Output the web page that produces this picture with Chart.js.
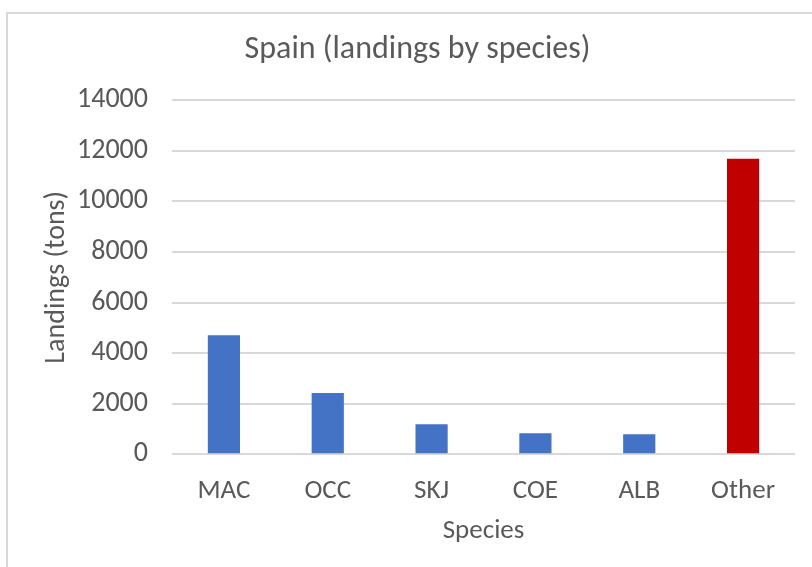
<!DOCTYPE html>
<html>
<head>
<meta charset="utf-8">
<script src="https://cdn.jsdelivr.net/npm/chart.js"></script>
<style>
  html, body { margin: 0; padding: 0; background: #fff; overflow: hidden; }
  #frame {
    position: absolute; left: 6px; top: 12px; width: 830px; height: 600px;
    border: 2px solid #d9d9d9; box-sizing: border-box;
  }
  #wrap { position: absolute; left: 0; top: 0; width: 812px; height: 567px; }
</style>
</head>
<body>
<div id="frame"></div>
<div id="wrap"><canvas id="landingsChart" width="812" height="567"></canvas></div>
<script>
// landings per species
const species = ['MAC', 'OCC', 'SKJ', 'COE', 'ALB', 'Other'];
const landings = [4710, 2420, 1185, 825, 785, 11690];
const barColors = ['#4472C4', '#4472C4', '#4472C4', '#4472C4', '#4472C4', '#C00000'];
const yTicks = [0, 2000, 4000, 6000, 8000, 10000, 12000, 14000];

const textGray = '#595959';
const fontName = 'Carlito, Lato, "Open Sans", sans-serif';

document.addEventListener('DOMContentLoaded', () => {
  const ctx = document.getElementById('landingsChart').getContext('2d');
  new Chart(ctx, {
    type: 'bar',
    data: {
      labels: species,
      datasets: [{
        data: landings,
        backgroundColor: barColors,
        borderWidth: 0,
        categoryPercentage: 1,
        barPercentage: 0.31
      }]
    },
    options: {
      responsive: false,
      animation: false,
      layout: { padding: { left: 40, right: 17, top: 31, bottom: 20 } },
      plugins: {
        legend: { display: false },
        tooltip: { enabled: false },
        title: {
          display: true,
          text: 'Spain (landings by species)',
          color: textGray,
          font: { family: fontName, size: 32, weight: 'normal' },
          padding: { top: 0, bottom: 31 }
        }
      },
      scales: {
        x: {
          grid: { display: false },
          border: { display: false },
          ticks: {
            color: textGray,
            font: { family: fontName, size: 27 },
            padding: 13
          },
          title: {
            display: true,
            text: 'Species',
            color: textGray,
            font: { family: fontName, size: 27 },
            padding: { top: -6, bottom: 0 }
          }
        },
        y: {
          min: 0,
          max: 14000,
          afterBuildTicks: (axis) => {
            axis.ticks = yTicks.map(v => ({ value: v }));
          },
          afterFit: (axis) => {
            axis.width = 132;
          },
          grid: { color: '#d9d9d9', lineWidth: 2, drawTicks: false },
          border: { display: false },
          ticks: {
            color: textGray,
            font: { family: fontName, size: 28 },
            padding: 24,
            callback: (v) => String(v)
          },
          title: {
            display: true,
            text: 'Landings (tons)',
            color: textGray,
            font: { family: fontName, size: 28 },
            padding: { top: 0, bottom: 4 }
          }
        }
      }
    }
  });
});
</script>
</body>
</html>
